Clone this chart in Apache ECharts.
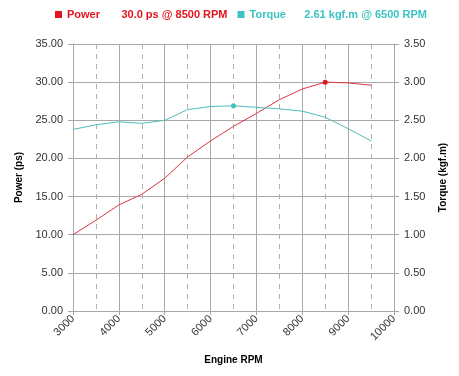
<!DOCTYPE html>
<html>
<head>
<meta charset="utf-8">
<script src="https://cdn.jsdelivr.net/npm/echarts@6/dist/echarts.min.js"></script>
<style>
  html, body { margin: 0; padding: 0; background: #fff; }
  #chart { width: 459px; height: 376px; }
</style>
</head>
<body>
<div id="chart"></div>
<script>
// engine speed samples (RPM)
const rpm = [3000, 3500, 4000, 4500, 5000, 5500, 6000, 6500, 7000, 7500, 8000, 8500, 9000, 9500]
// power (ps)
const power = [10.0, 11.9, 13.9, 15.3, 17.4, 20.2, 22.3, 24.2, 25.9, 27.7, 29.1, 30.0, 29.9, 29.6]
// torque (kgf.m)
const torque = [2.38, 2.44, 2.48, 2.46, 2.50, 2.64, 2.68, 2.69, 2.67, 2.65, 2.62, 2.54, 2.39, 2.23]

const peakPower = { label: '30.0 ps @ 8500 RPM', rpm: 8500 }
const peakTorque = { label: '2.61 kgf.m @ 6500 RPM', rpm: 6500 }

const red = '#e3141f'
const redLine = '#d93540'
const teal = '#3cc3c3'
const tealLine = '#4ebfbf'
const gridColor = '#a8a8a8'

const chart = echarts.init(document.getElementById('chart'))

function pairs(vals) {
  return rpm.map((r, i) => [r, vals[i]])
}

const option = {
  backgroundColor: '#fff',
  animation: false,
  textStyle: { fontFamily: 'Liberation Sans, Arial, sans-serif' },
  legend: {
    top: 4,
    left: 55,
    width: 420,
    padding: [5, 0],
    itemGap: 10,
    itemWidth: 7,
    itemHeight: 7,
    icon: 'rect',
    data: [
      { name: 'Power', itemStyle: { color: red }, textStyle: { color: red } },
      { name: 'Torque', itemStyle: { color: teal }, textStyle: { color: teal } }
    ],
    textStyle: { fontSize: 11, fontWeight: 'bold' },
    formatter: function (name) {
      return name === 'Power'
        ? 'Power       ' + peakPower.label
        : 'Torque      ' + peakTorque.label
    }
  },
  grid: { left: 73, right: 65, top: 44, bottom: 65 },
  xAxis: {
    type: 'value',
    min: 3000,
    max: 10000,
    interval: 1000,
    name: 'Engine RPM',
    nameLocation: 'middle',
    nameGap: 44,
    nameTextStyle: { fontSize: 10, fontWeight: 'bold', color: '#000' },
    axisLine: { show: true, lineStyle: { color: gridColor } },
    axisTick: { show: true, length: 4, lineStyle: { color: gridColor } },
    axisLabel: { rotate: 45, fontSize: 11, color: '#333', margin: 6, formatter: v => String(v) },
    splitLine: { show: true, lineStyle: { color: gridColor, width: 1 } },
    minorTick: { show: false, splitNumber: 2 },
    minorSplitLine: { show: true, lineStyle: { color: '#b0b0b0', type: [5, 5] } }
  },
  yAxis: [
    {
      type: 'value',
      min: 0,
      max: 35,
      interval: 5,
      name: 'Power (ps)',
      nameLocation: 'middle',
      nameGap: 48,
      nameTextStyle: { fontSize: 10, fontWeight: 'bold', color: '#000' },
      axisLine: { show: true, lineStyle: { color: gridColor } },
      axisTick: { show: true, length: 5, lineStyle: { color: gridColor } },
      axisLabel: { fontSize: 11, color: '#333', margin: 10, formatter: v => v.toFixed(2) },
      splitLine: { show: true, lineStyle: { color: gridColor } }
    },
    {
      type: 'value',
      min: 0,
      max: 3.5,
      interval: 0.5,
      position: 'right',
      name: 'Torque (kgf.m)',
      nameLocation: 'middle',
      nameGap: 44,
      nameRotate: 90,
      nameTextStyle: { fontSize: 10, fontWeight: 'bold', color: '#000' },
      axisLine: { show: true, lineStyle: { color: gridColor } },
      axisTick: { show: true, length: 5, lineStyle: { color: gridColor } },
      axisLabel: { fontSize: 11, color: '#333', margin: 10, formatter: v => v.toFixed(2) },
      splitLine: { show: false }
    }
  ],
  series: [
    {
      name: 'Power',
      type: 'line',
      yAxisIndex: 0,
      data: pairs(power),
      color: red,
      lineStyle: { color: redLine, width: 1 },
      symbol: 'circle',
      showAllSymbol: true,
      symbolSize: (v) => v[0] === peakPower.rpm ? 5 : 0,
      itemStyle: { color: red }
    },
    {
      name: 'Torque',
      type: 'line',
      yAxisIndex: 1,
      data: pairs(torque),
      color: teal,
      lineStyle: { color: tealLine, width: 1 },
      symbol: 'circle',
      showAllSymbol: true,
      symbolSize: (v) => v[0] === peakTorque.rpm ? 5 : 0,
      itemStyle: { color: teal }
    }
  ]
}

chart.setOption(option)
window.addEventListener('resize', chart.resize)
</script>
</body>
</html>
